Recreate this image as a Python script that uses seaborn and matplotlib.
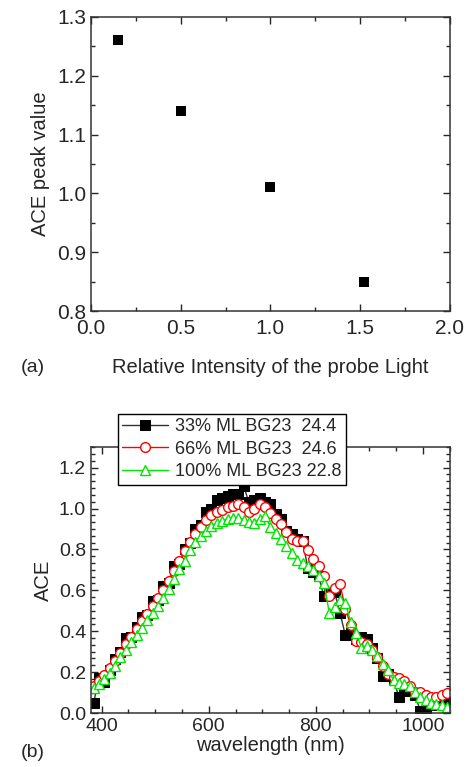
from matplotlib import pyplot as plt
from matplotlib.ticker import MultipleLocator, AutoMinorLocator
import seaborn as sns

# panel (a)
intensity = [0.15, 0.5, 1.0, 1.52]
ace_peak = [1.26, 1.14, 1.01, 0.85]

# panel (b)
wavelength = list(range(385, 1046, 10))
ace_33 = [0.05, 0.17, 0.15, 0.21, 0.265, 0.30, 0.365, 0.37, 0.42, 0.47,
          0.48, 0.55, 0.555, 0.62, 0.635, 0.72, 0.73, 0.80, 0.83, 0.90,
          0.92, 0.985, 1.00, 1.04, 1.05, 1.06, 1.07, 1.07, 1.11, 1.03,
          1.04, 1.05, 1.03, 1.02, 0.975, 0.95, 0.89, 0.875, 0.85, 0.84,
          0.71, 0.69, 0.67, 0.57, 0.585, 0.59, 0.49, 0.38, 0.39, 0.36,
          0.37, 0.36, 0.32, 0.27, 0.18, 0.19, 0.16, 0.08, 0.13, 0.11,
          0.09, 0.01, 0.005, 0.04, 0.05, 0.06, 0.07]
ace_66 = [0.13, 0.155, 0.185, 0.22, 0.255, 0.295, 0.335, 0.37, 0.41, 0.45,
          0.485, 0.525, 0.56, 0.60, 0.645, 0.695, 0.745, 0.79, 0.835, 0.875,
          0.91, 0.945, 0.97, 0.985, 0.995, 1.005, 1.01, 1.02, 1.005, 0.985,
          1.0, 1.02, 1.005, 0.98, 0.95, 0.925, 0.885, 0.85, 0.84, 0.84,
          0.795, 0.755, 0.72, 0.67, 0.57, 0.61, 0.63, 0.51, 0.43, 0.35,
          0.345, 0.335, 0.31, 0.275, 0.23, 0.19, 0.175, 0.17, 0.155, 0.13,
          0.105, 0.105, 0.09, 0.08, 0.08, 0.09, 0.10]
ace_100 = [0.12, 0.14, 0.165, 0.195, 0.23, 0.275, 0.31, 0.345, 0.38, 0.415,
           0.455, 0.49, 0.525, 0.56, 0.605, 0.655, 0.705, 0.745, 0.795, 0.835,
           0.865, 0.89, 0.915, 0.93, 0.94, 0.95, 0.955, 0.955, 0.945, 0.935,
           0.93, 0.95, 0.965, 0.91, 0.88, 0.85, 0.815, 0.78, 0.75, 0.735,
           0.72, 0.70, 0.67, 0.635, 0.49, 0.52, 0.555, 0.54, 0.445, 0.39,
           0.32, 0.33, 0.31, 0.28, 0.24, 0.21, 0.16, 0.145, 0.14, 0.13,
           0.105, 0.08, 0.065, 0.05, 0.045, 0.04, 0.03]
labels = ['33% ML BG23  24.4', '66% ML BG23  24.6', '100% ML BG23 22.8']

sns.set_style('ticks')
plt.rcParams['font.family'] = ['Liberation Sans', 'DejaVu Sans']
plt.rcParams['xtick.direction'] = 'in'
plt.rcParams['ytick.direction'] = 'in'
plt.rcParams['xtick.top'] = True
plt.rcParams['ytick.right'] = True

fig = plt.figure(figsize=(4.69, 7.67), dpi=100)
ax1 = fig.add_axes([0.194, 0.5945, 0.765, 0.3835])
ax2 = fig.add_axes([0.194, 0.0704, 0.765, 0.3466])

sns.scatterplot(x=intensity, y=ace_peak, ax=ax1, marker='s', color='black',
                s=52, edgecolor='black', linewidth=0)
ax1.set_xlim(0, 2.0)
ax1.set_ylim(0.8, 1.3)
ax1.xaxis.set_major_locator(MultipleLocator(0.5))
ax1.xaxis.set_minor_locator(MultipleLocator(0.25))
ax1.yaxis.set_major_locator(MultipleLocator(0.1))
ax1.yaxis.set_minor_locator(MultipleLocator(0.05))
ax1.set_xlabel('Relative Intensity of the probe Light', fontsize=14.5, labelpad=14)
ax1.set_ylabel('ACE peak value', fontsize=14.5, labelpad=5)
ax1.tick_params(labelsize=15, length=5, width=1)
ax1.tick_params(axis='x', pad=6)
ax1.tick_params(which='minor', length=3, width=1)

sns.lineplot(x=wavelength, y=ace_33, ax=ax2, color='#333333', lw=1,
             marker='s', ms=6.5, mfc='black', mec='black', label=labels[0])
sns.lineplot(x=wavelength, y=ace_66, ax=ax2, color='red', lw=1,
             marker='o', ms=7, mfc='white', mec='red', mew=1, label=labels[1])
sns.lineplot(x=wavelength, y=ace_100, ax=ax2, color='#00e600', lw=1,
             marker='^', ms=7.5, mfc='white', mec='#00e600', mew=1, label=labels[2])
ax2.set_xlim(380, 1050)
ax2.set_ylim(0, 1.3)
ax2.xaxis.set_major_locator(MultipleLocator(200))
ax2.xaxis.set_minor_locator(MultipleLocator(50))
ax2.yaxis.set_major_locator(MultipleLocator(0.2))
ax2.yaxis.set_minor_locator(AutoMinorLocator(6))
ax2.set_xlabel('wavelength (nm)', fontsize=14.5, labelpad=1)
ax2.set_ylabel('ACE', fontsize=14.5, labelpad=4)
ax2.tick_params(labelsize=14, length=5, width=1)
ax2.tick_params(which='minor', length=3, width=1)
leg = ax2.legend(loc='upper left', bbox_to_anchor=(0.05, 1.16), fontsize=13,
                 frameon=True, fancybox=False, edgecolor='black',
                 handlelength=2.5, borderpad=0.25, labelspacing=0.3,
                 handletextpad=0.4, framealpha=1)
leg.get_frame().set_linewidth(1)

for ax in (ax1, ax2):
    for sp in ax.spines.values():
        sp.set_color('#333333')
        sp.set_linewidth(1.1)

fig.text(0.045, 0.521, '(a)', fontsize=14, ha='left', va='center')
fig.text(0.045, 0.019, '(b)', fontsize=14, ha='left', va='center')

fig.savefig('out.png', dpi=100)
